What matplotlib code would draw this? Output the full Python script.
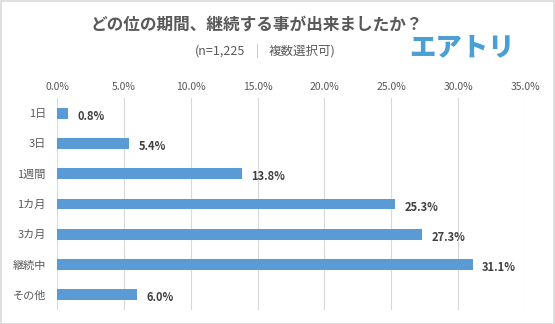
#! -*- coding: utf-8 -*-
import matplotlib
matplotlib.use('Agg')
import matplotlib.pyplot as plt
from matplotlib.patches import Rectangle

plt.rcParams['font.family'] = ['Noto Sans CJK JP', 'DejaVu Sans']

# --- データ ---
categories = ['1日', '3日', '1週間', '1カ月', '3カ月', '継続中', 'その他']
values = [0.8, 5.4, 13.8, 25.3, 27.3, 31.1, 6.0]
xticks = [0, 5, 10, 15, 20, 25, 30, 35]

W, H = 555, 324
fig = plt.figure(figsize=(W / 100, H / 100), dpi=100)
fig.patch.set_facecolor('white')

# 外枠
fig.patches.append(Rectangle((0.5 / W, 0.5 / H), 1 - 1.5 / W, 1 - 1.5 / H, transform=fig.transFigure,
                             fill=False, edgecolor='#d9d9d9', linewidth=1.2))

ax = fig.add_axes([57 / W, 1 - 310 / H, (525 - 57) / W, (310 - 98) / H])
y = list(range(len(categories)))
ax.barh(y, values, height=0.36, color='#5b9bd5', zorder=3)
ax.set_ylim(len(categories) - 0.5, -0.5)
ax.set_xlim(0, 35)
ax.set_xticks(xticks)
ax.set_xticklabels(['{:.1f}%'.format(t) for t in xticks], fontsize=7.5, color='#595959')
ax.xaxis.tick_top()
ax.set_yticks(y)
ax.set_yticklabels(categories, fontsize=8, color='#595959')
ax.tick_params(length=0, pad=8)
ax.tick_params(axis='x', pad=4)
ax.grid(axis='x', color='#d9d9d9', linewidth=0.8, zorder=0)
for s in ax.spines.values():
    s.set_visible(False)

for yi, v in zip(y, values):
    ax.text(v + 0.7, yi + 0.1, '{:.1f}%'.format(v), va='center', ha='left',
            fontsize=8, fontweight='bold', color='#404040')

cx = 257 / W
fig.text(cx, 1 - 25 / H, 'どの位の期間、継続する事が出来ましたか？', ha='center', va='center',
         fontsize=12, fontweight='bold', color='#595959')
fig.text(cx - 12 / W, 1 - 51 / H, '(n=1,225', ha='right', va='center', fontsize=9, color='#595959')
fig.text(cx, 1 - 51 / H, '|', ha='center', va='center', fontsize=9, color='#9dc3e6')
fig.text(cx + 12 / W, 1 - 51 / H, '複数選択可)', ha='left', va='center', fontsize=9, color='#595959')

fig.text(462 / W, 1 - 47 / H, 'エアトリ', ha='center', va='center', fontsize=19,
         fontweight='heavy', color='#4aa0d5')

fig.savefig('out.png', dpi=100)
